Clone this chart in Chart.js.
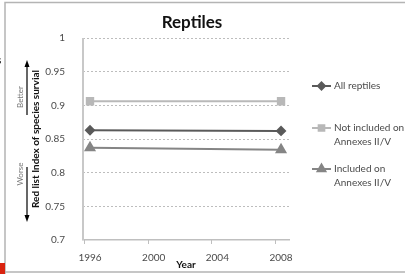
<!DOCTYPE html>
<html>
<head>
<meta charset="utf-8">
<script src="https://cdn.jsdelivr.net/npm/chart.js@4.4.1/dist/chart.umd.min.js"></script>
<style>
  html, body { margin: 0; padding: 0; background: #fff; }
  #wrap { width: 405px; height: 274px; position: relative; }
</style>
</head>
<body>
<div id="wrap"><canvas id="reptilesChart"></canvas></div>
<script>
// data
const years = [1996, 2008];
const yearTicks = [1996, 2000, 2004, 2008];
const allReptiles = [0.863, 0.862];
const notIncluded = [0.906, 0.906];
const included = [0.837, 0.834];
const seriesNames = ["All reptiles", ["Not included on", "Annexes II/V"], ["Included on", "Annexes II/V"]];

const txt = "#4a4a4a";
const FONT = "Lato, 'Open Sans', sans-serif";

function pts(vals) {
  return years.map((y, i) => ({ x: y, y: vals[i] }));
}

// frame, title, axis line, better/worse arrows, legend
const decor = {
  id: "decor",
  afterDraw(chart) {
    const c = chart.ctx;
    const area = chart.chartArea;
    const xs = chart.scales.x;
    c.save();
    // frame
    c.strokeStyle = "#b4b4b4";
    c.lineWidth = 1.5;
    c.beginPath();
    c.moveTo(5, 274); c.lineTo(5, 2.5); c.lineTo(405, 2.5);
    c.moveTo(5, 272); c.lineTo(405, 272);
    c.stroke();
    c.fillStyle = "#d9230f";
    c.fillRect(0, 263, 5, 11);
    c.fillStyle = "#000";
    c.font = "bold 12px " + FONT;
    c.textAlign = "left";
    c.textBaseline = "middle";
    c.fillText("s", -4, 60);

    // title
    c.fillStyle = "#111";
    c.font = "bold 17px " + FONT;
    c.textAlign = "center";
    c.fillText("Reptiles", 192, 23);

    // solid y axis line
    c.strokeStyle = "#c8c8c8";
    c.lineWidth = 2;
    c.beginPath(); c.moveTo(area.left, area.top); c.lineTo(area.left, area.bottom); c.stroke();

    // x tick marks (offset left of the labels, like the original)
    c.strokeStyle = "#bfbfbf";
    c.lineWidth = 1;
    yearTicks.forEach(t => {
      const px = Math.round(xs.getPixelForValue(t)) - 6 + 0.5;
      c.beginPath(); c.moveTo(px, area.bottom); c.lineTo(px, area.bottom + 4); c.stroke();
    });

    // better / worse arrows
    c.strokeStyle = "#000";
    c.fillStyle = "#000";
    c.lineWidth = 1.2;
    c.beginPath(); c.moveTo(27, 115); c.lineTo(27, 64); c.stroke();
    c.beginPath(); c.moveTo(27, 60); c.lineTo(24.5, 67); c.lineTo(29.5, 67); c.closePath(); c.fill();
    c.beginPath(); c.moveTo(27, 167); c.lineTo(27, 218); c.stroke();
    c.beginPath(); c.moveTo(27, 222); c.lineTo(24.5, 215); c.lineTo(29.5, 215); c.closePath(); c.fill();
    c.fillStyle = "#777";
    c.font = "8px " + FONT;
    c.save(); c.translate(20, 97); c.rotate(-Math.PI / 2); c.fillText("Better", 0, 0); c.restore();
    c.save(); c.translate(20, 174); c.rotate(-Math.PI / 2); c.fillText("Worse", 0, 0); c.restore();

    // legend
    const rows = [86, 128, 169];
    chart.data.datasets.forEach((ds, i) => {
      const y = rows[i];
      c.strokeStyle = ds.borderColor;
      c.lineWidth = 2;
      c.beginPath(); c.moveTo(312, y); c.lineTo(331, y); c.stroke();
      c.fillStyle = ds.pointBackgroundColor;
      c.strokeStyle = ds.borderColor;
      Chart.helpers.drawPoint(c, {
        pointStyle: ds.pointStyle, radius: ds.pointRadius - 0.5, borderWidth: 1, rotation: 0
      }, 321.5, y);
      c.fillStyle = txt;
      c.font = "10px " + FONT;
      c.textAlign = "left";
      const lines = [].concat(seriesNames[i]);
      lines.forEach((l, j) => c.fillText(l, 334, y + j * 13.5));
    });
    c.restore();
  }
};

new Chart(document.getElementById("reptilesChart").getContext("2d"), {
  type: "line",
  data: {
    datasets: [
      {
        label: "All reptiles",
        data: pts(allReptiles),
        borderColor: "#5a5a5a",
        backgroundColor: "#5a5a5a",
        pointBackgroundColor: "#5a5a5a",
        pointBorderColor: "#5a5a5a",
        pointStyle: "rectRot",
        pointRadius: 4,
        borderWidth: 2,
      },
      {
        label: "Not included on Annexes II/V",
        data: pts(notIncluded),
        borderColor: "#b8b8b8",
        backgroundColor: "#b8b8b8",
        pointBackgroundColor: "#b8b8b8",
        pointBorderColor: "#b8b8b8",
        pointStyle: "rect",
        pointRadius: 4.5,
        borderWidth: 2,
      },
      {
        label: "Included on Annexes II/V",
        data: pts(included),
        borderColor: "#858585",
        backgroundColor: "#858585",
        pointBackgroundColor: "#858585",
        pointBorderColor: "#858585",
        pointStyle: "triangle",
        pointRadius: 5,
        borderWidth: 2,
      },
    ],
  },
  options: {
    responsive: true,
    maintainAspectRatio: false,
    animation: false,
    layout: { padding: { top: 38, right: 116, left: 0, bottom: 0 } },
    plugins: { legend: { display: false }, tooltip: { enabled: false } },
    scales: {
      x: {
        type: "linear",
        min: 1995.56,
        max: 2008.5,
        afterFit: (s) => { s.height = 34; },
        afterBuildTicks: (s) => { s.ticks = yearTicks.map(v => ({ value: v })); },
        ticks: {
          color: txt, font: { family: FONT, size: 10 }, padding: 4, maxRotation: 0,
          callback: (v) => String(v),
        },
        grid: { display: false },
        border: { display: true, color: "#bfbfbf", width: 1.5 },
        title: {
          display: true, text: "Year", color: "#111",
          font: { family: FONT, size: 10, weight: "bold" }, padding: { top: 0, bottom: 3 }
        },
      },
      y: {
        min: 0.7,
        max: 1,
        afterFit: (s) => { s.width = 83; },
        ticks: {
          stepSize: 0.05, color: txt, padding: 18,
          font: { family: FONT, size: 10 },
          callback: (v) => parseFloat(v.toFixed(2)).toString(),
        },
        grid: {
          drawTicks: false,
          color: (ctx) => (ctx.tick && Math.abs(ctx.tick.value - 0.7) < 1e-6 ? "rgba(0,0,0,0)" : "#bdbdbd"),
          lineWidth: 1,
        },
        border: { display: false, dash: [2, 2] },
        title: {
          display: true, text: "Red list Index of species survial", color: "#111",
          font: { family: FONT, size: 10, weight: "bold" }, padding: { top: 30, bottom: 0 }
        },
      },
    },
  },
  plugins: [decor],
});
</script>
</body>
</html>
